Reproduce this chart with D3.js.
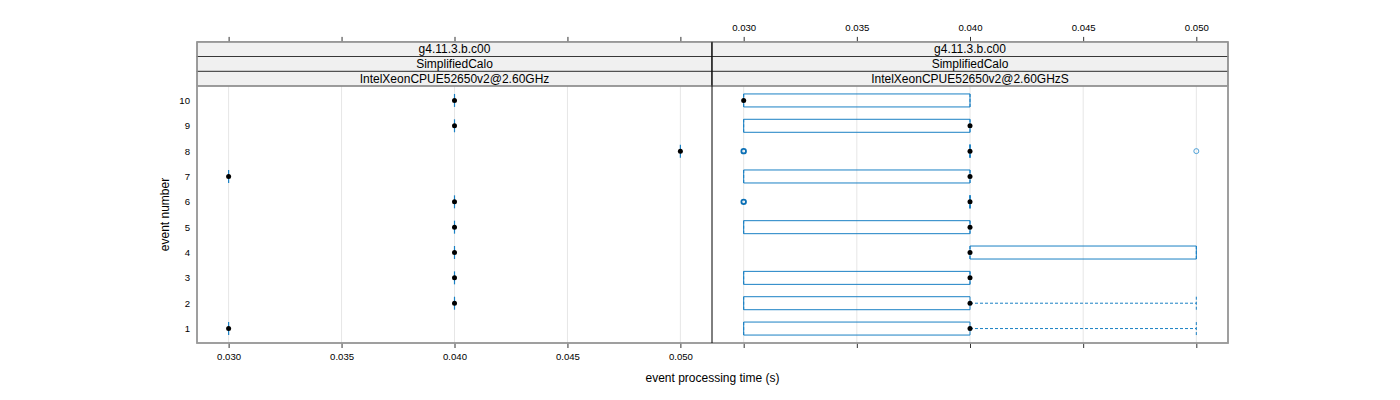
<!DOCTYPE html>
<html>
<head>
<meta charset="utf-8">
<script src="https://cdn.jsdelivr.net/npm/d3@7"></script>
<style>
  html, body { margin: 0; padding: 0; background: #fff; }
  svg { display: block; font-family: "Liberation Sans", Arial, Helvetica, sans-serif; }
</style>
</head>
<body>
<svg id="chart" width="1400" height="400"></svg>
<script>
// ---------------- data ----------------
const events = [1, 2, 3, 4, 5, 6, 7, 8, 9, 10];
const xTicks = [0.030, 0.035, 0.040, 0.045, 0.050];
const xTickLabels = ["0.030", "0.035", "0.040", "0.045", "0.050"];
const yTickLabels = ["1", "2", "3", "4", "5", "6", "7", "8", "9", "10"];
const stripLevels = ["g4.11.3.b.c00", "SimplifiedCalo"];
const panelNames = ["IntelXeonCPUE52650v2@2.60GHz", "IntelXeonCPUE52650v2@2.60GHzS"];

// left panel: one time per event
const leftTimes = [0.030, 0.040, 0.040, 0.040, 0.040, 0.040, 0.030, 0.050, 0.040, 0.040];

// right panel: box statistics per event
const boxLow    = [0.030, 0.030, 0.030, 0.040, 0.030, 0.040, 0.030, 0.040, 0.030, 0.030];
const boxMedian = [0.040, 0.040, 0.040, 0.040, 0.040, 0.040, 0.040, 0.040, 0.040, 0.030];
const boxHigh   = [0.040, 0.040, 0.040, 0.050, 0.040, 0.040, 0.040, 0.040, 0.040, 0.040];
const whiskLow  = [0.030, 0.030, 0.030, 0.040, 0.030, 0.040, 0.030, 0.040, 0.030, 0.030];
const whiskHigh = [0.050, 0.050, 0.040, 0.050, 0.040, 0.040, 0.040, 0.040, 0.040, 0.040];
const outliers  = [[], [], [], [], [], [0.030, 0.030, 0.030], [], [0.030, 0.030, 0.030, 0.050], [], []];

const xDomain = [0.0286, 0.0514];
const yDomain = [0.43, 10.57];

// ---------------- layout ----------------
const svg = d3.select("#chart");
const plotTop = 86, plotBottom = 343;
const panels = [{x0: 197, x1: 712}, {x0: 712, x1: 1228}];
const stripH = 14.7;
const stripTop = plotTop - 3 * stripH;

const y = d3.scaleLinear().domain(yDomain).range([plotBottom, plotTop]);
const xs = panels.map(p => d3.scaleLinear().domain(xDomain).range([p.x0, p.x1]));

const blue = "#1a80c4";
const gridCol = "#e6e6e6";
const frameCol = "#999";

// grid lines
panels.forEach((p, i) => {
  svg.append("g").selectAll("line").data(xTicks).join("line")
    .attr("x1", d => xs[i](d)).attr("x2", d => xs[i](d))
    .attr("y1", plotTop).attr("y2", plotBottom)
    .attr("stroke", gridCol).attr("stroke-width", 1);
});

// strips
panels.forEach((p, i) => {
  const labels = stripLevels.concat([panelNames[i]]);
  const g = svg.append("g");
  g.selectAll("rect").data(labels).join("rect")
    .attr("x", p.x0).attr("width", p.x1 - p.x0)
    .attr("y", (d, k) => stripTop + k * stripH).attr("height", stripH)
    .attr("fill", "#f0f0f0").attr("stroke", "#222").attr("stroke-width", 0.8);
  g.selectAll("text").data(labels).join("text")
    .attr("x", (p.x0 + p.x1) / 2)
    .attr("y", (d, k) => stripTop + k * stripH + stripH / 2 + 4.2)
    .attr("text-anchor", "middle").attr("font-size", 12).attr("fill", "#000")
    .text(d => d);
});

// axes: bottom (left panel labeled), top (right panel labeled)
panels.forEach((p, i) => {
  const bAxis = d3.axisBottom(xs[i]).tickValues(xTicks).tickSize(5).tickPadding(5)
    .tickFormat((d, k) => i === 0 ? xTickLabels[k] : "");
  const gb = svg.append("g").attr("transform", `translate(0,${plotBottom})`).call(bAxis);
  const tAxis = d3.axisTop(xs[i]).tickValues(xTicks).tickSize(5).tickPadding(6)
    .tickFormat((d, k) => i === 1 ? xTickLabels[k] : "");
  const gt = svg.append("g").attr("transform", `translate(0,${stripTop})`).call(tAxis);
  [gb, gt].forEach(g => {
    g.select(".domain").remove();
    g.selectAll(".tick line").attr("stroke", "#333");
    g.selectAll(".tick text").attr("font-size", 9.6).attr("fill", "#000")
      .attr("font-family", "Liberation Sans, Arial, sans-serif");
  });
});

// y axis labels (no tick marks)
const yAxis = d3.axisLeft(y).tickValues(events).tickSize(0).tickPadding(7)
  .tickFormat((d, k) => yTickLabels[k]);
const gy = svg.append("g").attr("transform", `translate(${panels[0].x0},0)`).call(yAxis);
gy.select(".domain").remove();
gy.selectAll(".tick text").attr("font-size", 9.6).attr("fill", "#000")
  .attr("font-family", "Liberation Sans, Arial, sans-serif");

// ---------- left panel: dots with short vertical bars ----------
const half = 6.5;
const gl = svg.append("g");
gl.selectAll("line").data(events).join("line")
  .attr("x1", (d, k) => xs[0](leftTimes[k])).attr("x2", (d, k) => xs[0](leftTimes[k]))
  .attr("y1", d => y(d) - half).attr("y2", d => y(d) + half)
  .attr("stroke", blue).attr("stroke-width", 1.2);
gl.selectAll("circle").data(events).join("circle")
  .attr("cx", (d, k) => xs[0](leftTimes[k])).attr("cy", d => y(d))
  .attr("r", 2.5).attr("fill", "#000");

// ---------- right panel: box plots ----------
const x2 = xs[1];
const gr = svg.append("g");
events.forEach((ev, k) => {
  const cy = y(ev);
  const segs = [[whiskLow[k], boxLow[k]], [boxHigh[k], whiskHigh[k]]];
  segs.forEach(([a, b]) => {
    if (b > a) {
      gr.append("line").attr("x1", x2(a)).attr("x2", x2(b)).attr("y1", cy).attr("y2", cy)
        .attr("stroke", blue).attr("stroke-dasharray", "3,2").attr("stroke-width", 1);
    }
  });
  [whiskLow[k], whiskHigh[k]].forEach(w => {
    gr.append("line").attr("x1", x2(w)).attr("x2", x2(w))
      .attr("y1", cy - half).attr("y2", cy + half)
      .attr("stroke", blue).attr("stroke-dasharray", "3,2").attr("stroke-width", 1);
  });
  gr.append("path")
    .attr("d", `M${x2(boxLow[k])},${cy - half}H${x2(boxHigh[k])}V${cy + half}H${x2(boxLow[k])}Z`)
    .attr("fill", "none").attr("stroke", blue).attr("stroke-width", 1);
  // outliers: overplotted repeats drawn heavier
  const counts = Array.from(d3.rollup(outliers[k], v => v.length, d => d));
  gr.selectAll(null).data(counts).join("circle")
    .attr("cx", d => x2(d[0])).attr("cy", cy).attr("r", d => d[1] > 1 ? 2.3 : 2.5)
    .attr("fill", "none").attr("stroke", d => d[1] > 1 ? "#0a6fb5" : "#3d97d3")
    .attr("stroke-width", d => d[1] > 1 ? 1.8 : 0.9);
  gr.append("circle").attr("cx", x2(boxMedian[k])).attr("cy", cy).attr("r", 2.5).attr("fill", "#000");
});

// panel frames
svg.append("rect").attr("x", panels[0].x0).attr("y", plotTop)
  .attr("width", panels[1].x1 - panels[0].x0).attr("height", plotBottom - plotTop)
  .attr("fill", "none").attr("stroke", frameCol).attr("stroke-width", 1.5);
svg.append("rect").attr("x", panels[0].x0).attr("y", stripTop)
  .attr("width", panels[1].x1 - panels[0].x0).attr("height", plotBottom - stripTop)
  .attr("fill", "none").attr("stroke", frameCol).attr("stroke-width", 1.5);
svg.append("line").attr("x1", panels[0].x1).attr("x2", panels[0].x1)
  .attr("y1", stripTop).attr("y2", plotBottom).attr("stroke", "#000").attr("stroke-width", 1);

// axis titles
svg.append("text").attr("x", (panels[0].x0 + panels[1].x1) / 2).attr("y", 382)
  .attr("text-anchor", "middle").attr("font-size", 12).text("event processing time (s)");
svg.append("text").attr("transform", `translate(169,${(plotTop + plotBottom) / 2}) rotate(-90)`)
  .attr("text-anchor", "middle").attr("font-size", 12).text("event number");
</script>
</body>
</html>
